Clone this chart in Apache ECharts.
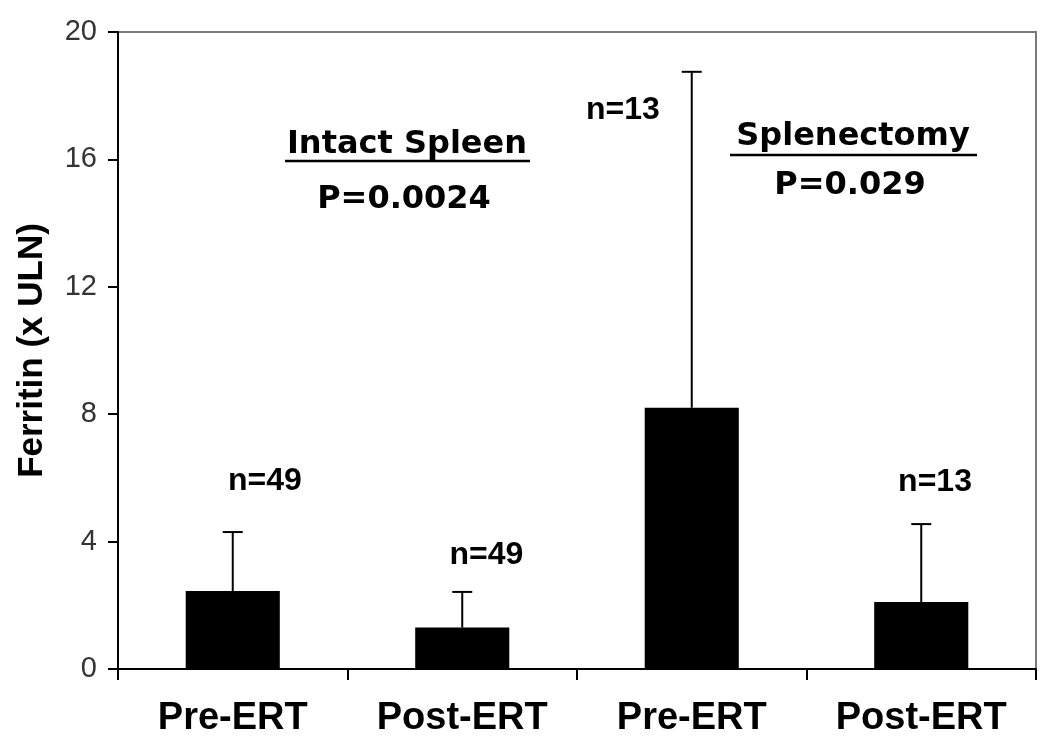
<!DOCTYPE html>
<html>
<head>
<meta charset="utf-8">
<script src="https://cdn.jsdelivr.net/npm/echarts@6/dist/echarts.min.js"></script>
<style>
  html, body { margin: 0; padding: 0; background: #fff; }
  #chart { width: 1050px; height: 750px; }
</style>
</head>
<body>
<div id="chart"></div>
<script>
const categories = ['Pre-ERT', 'Post-ERT', 'Pre-ERT', 'Post-ERT']
const ferritinMean = [2.45, 1.3, 8.2, 2.1]
const ferritinUpper = [4.3, 2.42, 18.75, 4.55]
const nLabels = ['n=49', 'n=49', 'n=13', 'n=13']
const nLabelY = [5.9, 3.58, 17.55, 5.87]
const nLabelShift = [0.14, 0.105, -0.3, 0.06]
const groupNames = ['Intact Spleen', 'Splenectomy']
const groupP = ['P=0.0024', 'P=0.029']

const chart = echarts.init(document.getElementById('chart'))

const errorData = ferritinMean.map((v, i) => [i, v, ferritinUpper[i]])
const nData = nLabels.map((t, i) => [i, nLabelY[i], nLabelShift[i]])

const headFont = 'bold 32px "DejaVu Sans"'

const option = {
  animation: false,
  backgroundColor: '#fff',
  grid: {
    left: 118,
    right: 14,
    top: 32,
    bottom: 81,
    containLabel: false,
    outerBoundsMode: 'none',
    show: true,
    borderColor: '#7a7a7a',
    borderWidth: 2
  },
  xAxis: {
    type: 'category',
    data: categories,
    axisLine: { lineStyle: { color: '#000', width: 2 } },
    axisTick: { show: true, length: 11, lineStyle: { color: '#000', width: 2 } },
    axisLabel: {
      margin: 31,
      color: '#000',
      fontFamily: 'Liberation Sans',
      fontWeight: 'bold',
      fontSize: 38
    }
  },
  yAxis: {
    type: 'value',
    min: 0,
    max: 20,
    interval: 4,
    name: 'Ferritin (x ULN)',
    nameLocation: 'middle',
    nameGap: 68,
    nameTextStyle: {
      color: '#000',
      fontFamily: 'Liberation Sans',
      fontWeight: 'bold',
      fontSize: 35
    },
    axisLine: { show: true, lineStyle: { color: '#000', width: 2 } },
    axisTick: { show: true, length: 10, lineStyle: { color: '#000', width: 2 } },
    splitLine: { show: false },
    axisLabel: {
      margin: 21,
      color: '#333',
      fontFamily: 'Liberation Sans',
      fontSize: 29
    }
  },
  series: [
    {
      type: 'bar',
      data: ferritinMean,
      barWidth: '41%',
      itemStyle: { color: '#000' }
    },
    {
      type: 'custom',
      data: errorData,
      z: 3,
      renderItem(params, api) {
        const base = api.coord([api.value(0), api.value(1)])
        const top = api.coord([api.value(0), api.value(2)])
        const style = { stroke: '#000', lineWidth: 2 }
        return {
          type: 'group',
          children: [
            { type: 'line', shape: { x1: base[0], y1: base[1], x2: top[0], y2: top[1] }, style },
            { type: 'line', shape: { x1: top[0] - 10, y1: top[1], x2: top[0] + 10, y2: top[1] }, style }
          ]
        }
      }
    },
    {
      type: 'custom',
      data: nData,
      z: 4,
      renderItem(params, api) {
        const p = api.coord([api.value(0), api.value(1)])
        const band = api.size([1, 0])[0]
        return {
          type: 'text',
          x: p[0] + band * api.value(2),
          y: p[1],
          style: {
            text: nLabels[params.dataIndex],
            align: 'center',
            verticalAlign: 'middle',
            fill: '#000',
            font: 'bold 32px "Liberation Sans"'
          }
        }
      }
    }
  ],
  graphic: [
    { type: 'text', x: 407, y: 145, style: { text: groupNames[0], align: 'center', verticalAlign: 'middle', font: headFont, fill: '#000' } },
    { type: 'line', shape: { x1: 285, y1: 161, x2: 530, y2: 161 }, style: { stroke: '#000', lineWidth: 2.5 } },
    { type: 'text', x: 404, y: 200, style: { text: groupP[0], align: 'center', verticalAlign: 'middle', font: headFont, fill: '#000' } },
    { type: 'text', x: 853, y: 137, style: { text: groupNames[1], align: 'center', verticalAlign: 'middle', font: headFont, fill: '#000' } },
    { type: 'line', shape: { x1: 730, y1: 155, x2: 977, y2: 155 }, style: { stroke: '#000', lineWidth: 2.5 } },
    { type: 'text', x: 850, y: 186, style: { text: groupP[1], align: 'center', verticalAlign: 'middle', font: headFont, fill: '#000' } }
  ]
}

chart.setOption(option)
</script>
</body>
</html>
